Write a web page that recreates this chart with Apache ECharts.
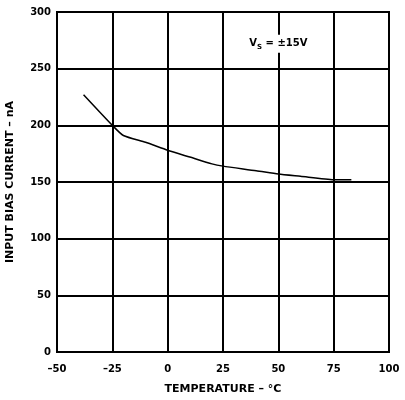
<!DOCTYPE html>
<html>
<head>
<meta charset="utf-8">
<script src="https://cdn.jsdelivr.net/npm/echarts@6/dist/echarts.min.js"></script>
<style>
  html, body { margin: 0; padding: 0; background: #fff; }
  #chart { width: 405px; height: 400px; }
</style>
</head>
<body>
<div id="chart"></div>
<script>
  // temperature (°C) and input bias current (nA)
  const temperature = [-38, -25, -20, -10, 0, 10, 20, 25, 40, 50, 60, 75, 83]
  const biasCurrent = [227, 200, 191, 185, 178, 172, 166, 164, 160, 157, 155, 152, 152]

  const xTicks = [-50, -25, 0, 25, 50, 75, 100]
  const yTicks = [0, 50, 100, 150, 200, 250, 300]

  const font = 'DejaVu Sans'
  const chart = echarts.init(document.getElementById('chart'))

  const points = temperature.map((t, i) => [t, biasCurrent[i]])

  chart.setOption({
    animation: false,
    grid: {
      left: 57,
      right: 16,
      top: 12,
      bottom: 48,
      outerBoundsMode: 'none',
      containLabel: false,
      show: true,
      borderColor: '#000',
      borderWidth: 2
    },
    xAxis: {
      type: 'value',
      min: xTicks[0],
      max: xTicks[xTicks.length - 1],
      interval: 25,
      name: 'TEMPERATURE – °C',
      nameLocation: 'middle',
      nameGap: 32,
      nameTextStyle: { color: '#000', fontFamily: font, fontWeight: 'bold', fontSize: 11 },
      axisLine: { show: true, lineStyle: { color: '#000', width: 2 } },
      axisTick: { show: false },
      axisLabel: {
        color: '#000', fontFamily: font, fontWeight: 'bold', fontSize: 10, margin: 12,
        formatter: v => String(v).replace('-', '–')
      },
      splitLine: { show: true, lineStyle: { color: '#000', width: 2 } }
    },
    yAxis: {
      type: 'value',
      min: yTicks[0],
      max: yTicks[yTicks.length - 1],
      interval: 50,
      name: 'INPUT BIAS CURRENT – nA',
      nameLocation: 'middle',
      nameGap: 41,
      nameTextStyle: { color: '#000', fontFamily: font, fontWeight: 'bold', fontSize: 11 },
      axisLine: { show: true, lineStyle: { color: '#000', width: 2 } },
      axisTick: { show: false },
      axisLabel: { color: '#000', fontFamily: font, fontWeight: 'bold', fontSize: 10, margin: 6 },
      splitLine: { show: true, lineStyle: { color: '#000', width: 2 } }
    },
    series: [
      {
        type: 'line',
        data: points,
        smooth: 0.2,
        showSymbol: false,
        lineStyle: { color: '#000', width: 1.5 },
        markPoint: {
          symbol: 'rect',
          symbolSize: [72, 18],
          itemStyle: { color: '#fff' },
          label: {
            show: true,
            formatter: '{a|V}{s|S}{a| = ±15V}',
            rich: {
              a: { color: '#000', fontFamily: font, fontWeight: 'bold', fontSize: 10 },
              s: { color: '#000', fontFamily: font, fontWeight: 'bold', fontSize: 7, verticalAlign: 'bottom', padding: [6, 0, 0, 0] }
            }
          },
          data: [{ coord: [50, 272] }]
        }
      }
    ]
  })
</script>
</body>
</html>
